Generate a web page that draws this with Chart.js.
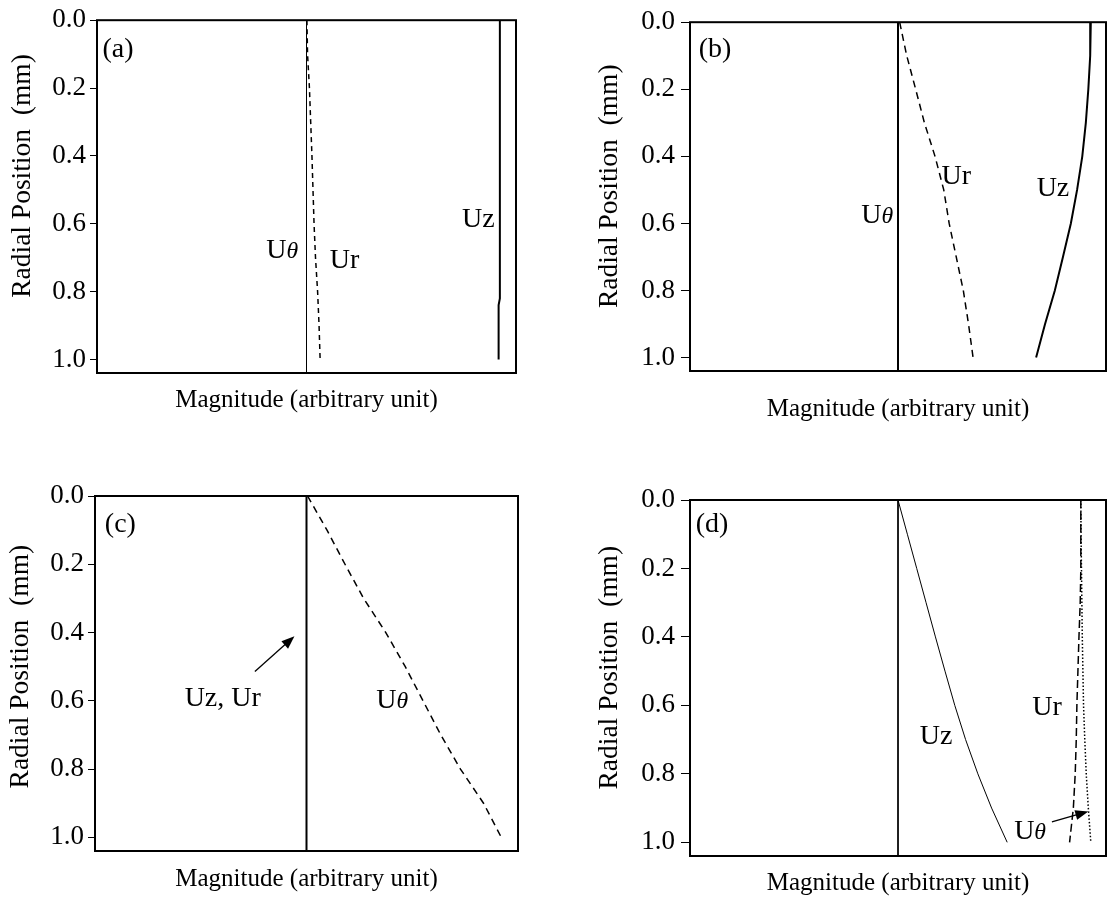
<!DOCTYPE html>
<html>
<head>
<meta charset="utf-8">
<script src="https://cdn.jsdelivr.net/npm/chart.js@4.4.0/dist/chart.umd.min.js"></script>
<style>
  html, body { margin: 0; padding: 0; background: #fff; }
  #wrap { position: relative; width: 1114px; height: 898px; }
  .panel { position: absolute; width: 557px; height: 449px; }
</style>
</head>
<body>
<div id="wrap">
  <div class="panel" style="left:0;top:0"><canvas id="chartA" width="557" height="449"></canvas></div>
  <div class="panel" style="left:557px;top:0"><canvas id="chartB" width="557" height="449"></canvas></div>
  <div class="panel" style="left:0;top:449px"><canvas id="chartC" width="557" height="449"></canvas></div>
  <div class="panel" style="left:557px;top:449px"><canvas id="chartD" width="557" height="449"></canvas></div>
</div>
<script>
// radial positions (mm) where the profiles are read
const radialPos = [0, 0.1, 0.2, 0.3, 0.4, 0.5, 0.6, 0.7, 0.8, 0.9, 1.0];
const yTicks = [0, 0.2, 0.4, 0.6, 0.8, 1.0];
const Y_MAX = 1.04;
const fullSpan = [0, Y_MAX];
const zeroLine = [0, 0];

// (a)
const aUr = [0.002, 0.005, 0.014, 0.020, 0.026, 0.031, 0.036, 0.043, 0.053, 0.060, 0.065];
const aUzPos = [0, 0.82, 0.84, 1.0];
const aUz = [0.923, 0.923, 0.917, 0.917];
// (b)
const bUr = [0.008, 0.042, 0.085, 0.127, 0.178, 0.220, 0.246, 0.280, 0.314, 0.339, 0.361];
const bUz = [0.927, 0.924, 0.915, 0.903, 0.886, 0.861, 0.831, 0.793, 0.754, 0.707, 0.664];
// (c)
const cUtheta = [0.005, 0.097, 0.182, 0.270, 0.375, 0.467, 0.551, 0.635, 0.728, 0.837, 0.921];
// (d)
const dUz = [0, 0.045, 0.090, 0.135, 0.180, 0.226, 0.273, 0.325, 0.384, 0.450, 0.525];
const dUr = [0.879, 0.879, 0.879, 0.876, 0.870, 0.865, 0.860, 0.857, 0.852, 0.843, 0.825];
const dUtheta = [0.879, 0.880, 0.882, 0.884, 0.886, 0.889, 0.892, 0.898, 0.905, 0.915, 0.927];

const SERIF = '"Liberation Serif", "Times New Roman", serif';

function series(xs, ys, style) {
    return Object.assign({
        data: xs.map((v, i) => ({x: v, y: ys[i]})),
        showLine: true,
        pointRadius: 0,
        borderColor: '#000',
        borderWidth: 1.5,
        fill: false,
        tension: 0
    }, style);
}

// box around the plot area
const frame = {
    id: 'frame',
    afterDatasetsDraw(chart) {
        const {ctx, chartArea: a} = chart;
        ctx.save();
        ctx.strokeStyle = '#000';
        ctx.lineWidth = 2;
        ctx.strokeRect(a.left, a.top, a.right - a.left, a.bottom - a.top);
        ctx.restore();
    }
};

// curve names, panel letters and arrows, placed in data coordinates
const notes = {
    id: 'notes',
    afterDraw(chart, args, opts) {
        const {ctx, scales: {x, y}} = chart;
        ctx.save();
        ctx.fillStyle = '#000';
        ctx.strokeStyle = '#000';
        (opts.arrows || []).forEach(a => {
            const x0 = x.getPixelForValue(a.from[0]), y0 = y.getPixelForValue(a.from[1]);
            const x1 = x.getPixelForValue(a.to[0]), y1 = y.getPixelForValue(a.to[1]);
            const ang = Math.atan2(y1 - y0, x1 - x0);
            ctx.lineWidth = 1.3;
            ctx.beginPath();
            ctx.moveTo(x0, y0);
            ctx.lineTo(x1 - 8 * Math.cos(ang), y1 - 8 * Math.sin(ang));
            ctx.stroke();
            ctx.beginPath();
            ctx.moveTo(x1, y1);
            ctx.lineTo(x1 - 13 * Math.cos(ang) + 5 * Math.sin(ang), y1 - 13 * Math.sin(ang) - 5 * Math.cos(ang));
            ctx.lineTo(x1 - 13 * Math.cos(ang) - 5 * Math.sin(ang), y1 - 13 * Math.sin(ang) + 5 * Math.cos(ang));
            ctx.closePath();
            ctx.fill();
        });
        ctx.textBaseline = 'alphabetic';
        ctx.textAlign = 'left';
        (opts.texts || []).forEach(t => {
            const size = t.size || 28;
            const parts = t.parts || [[t.text, false]];
            let total = 0;
            const widths = parts.map(p => {
                ctx.font = (p[1] ? 'italic ' : '') + (p[1] ? size * 0.85 : size) + 'px ' + SERIF;
                const w = ctx.measureText(p[0]).width;
                total += w;
                return w;
            });
            let px = x.getPixelForValue(t.at[0]) - total / 2;
            const py = y.getPixelForValue(t.at[1]) + size * 0.33;
            parts.forEach((p, i) => {
                ctx.font = (p[1] ? 'italic ' : '') + (p[1] ? size * 0.85 : size) + 'px ' + SERIF;
                ctx.fillText(p[0], px, py);
                px += widths[i];
            });
        });
        ctx.restore();
    }
};

const THETA = [['U', false], ['\u03B8', true]];

function makePanel(id, cfg) {
    return new Chart(document.getElementById(id), {
        type: 'scatter',
        data: { datasets: cfg.datasets },
        plugins: [frame, notes],
        options: {
            responsive: false,
            animation: false,
            layout: { padding: cfg.pad },
            plugins: {
                legend: { display: false },
                tooltip: { enabled: false },
                notes: cfg.notes
            },
            scales: {
                x: {
                    type: 'linear', min: -1, max: 1,
                    ticks: { display: false },
                    grid: { display: false },
                    border: { display: false },
                    title: {
                        display: true, text: 'Magnitude (arbitrary unit)', color: '#000',
                        font: { family: SERIF, size: 25 },
                        padding: { top: 0, bottom: cfg.xTitlePad }
                    },
                    afterFit: s => { s.height = cfg.xHeight; }
                },
                y: {
                    type: 'linear', reverse: true, min: 0, max: Y_MAX,
                    afterBuildTicks: s => { s.ticks = yTicks.map(v => ({ value: v })); },
                    ticks: {
                        callback: v => v.toFixed(1), color: '#000', padding: cfg.tickPad,
                        font: { family: SERIF, size: 27 }
                    },
                    grid: { drawOnChartArea: false, drawTicks: true, tickLength: cfg.tickLen, color: '#000', lineWidth: 1 },
                    border: { display: false },
                    title: {
                        display: true, text: cfg.yTitle, color: '#000',
                        font: { family: SERIF, size: 27.5 },
                        padding: { top: cfg.yTitlePad, bottom: 0 }
                    },
                    afterFit: s => { s.width = cfg.yWidth; }
                }
            }
        }
    });
}

const yTitle = 'Radial Position  (mm)';

makePanel('chartA', {
    pad: { top: 16, right: 41, bottom: 0, left: 0 },
    yWidth: 97, yTitlePad: 6, yTitle: '      ' + yTitle,
    tickLen: 7, tickPad: 4,
    xHeight: 76, xTitlePad: 34,
    datasets: [
        series(zeroLine, fullSpan, { borderWidth: 1 }),
        series(aUr, radialPos, { borderDash: [5, 4] }),
        series(aUz, aUzPos, { borderWidth: 2 })
    ],
    notes: {
        texts: [
            { at: [-0.9, 0.082], text: '(a)' },
            { at: [-0.116, 0.674], parts: THETA },
            { at: [0.182, 0.703], text: 'Ur' },
            { at: [0.82, 0.583], text: 'Uz' }
        ]
    }
});

makePanel('chartB', {
    pad: { top: 16, right: 8, bottom: 0, left: 0 },
    yWidth: 133, yTitlePad: 36.5, yTitle: '   ' + yTitle,
    tickLen: 9, tickPad: 6,
    xHeight: 78, xTitlePad: 25,
    datasets: [
        series(zeroLine, fullSpan, { borderWidth: 2 }),
        series(bUr, radialPos, { borderDash: [7, 5] }),
        series(bUz, radialPos, { borderWidth: 2 })
    ],
    notes: {
        texts: [
            { at: [-0.88, 0.075], text: '(b)' },
            { at: [-0.1, 0.57], parts: THETA },
            { at: [0.28, 0.456], text: 'Ur' },
            { at: [0.745, 0.49], text: 'Uz' }
        ]
    }
});

makePanel('chartC', {
    pad: { top: 47, right: 39, bottom: 0, left: 0 },
    yWidth: 95, yTitlePad: 4.5, yTitle: '  ' + yTitle,
    tickLen: 7, tickPad: 4,
    xHeight: 47, xTitlePad: 4,
    datasets: [
        series(zeroLine, fullSpan, { borderWidth: 2 }),
        series(cUtheta, radialPos, { borderDash: [7, 5] })
    ],
    notes: {
        texts: [
            { at: [-0.88, 0.078], text: '(c)' },
            { at: [-0.396, 0.589], text: 'Uz, Ur' },
            { at: [0.405, 0.594], parts: THETA }
        ],
        arrows: [ { from: [-0.244, 0.514], to: [-0.057, 0.411] } ]
    }
});

makePanel('chartD', {
    pad: { top: 51, right: 8, bottom: 0, left: 0 },
    yWidth: 133, yTitlePad: 36.5, yTitle: '   ' + yTitle,
    tickLen: 9, tickPad: 6,
    xHeight: 42, xTitlePad: 0,
    datasets: [
        series(zeroLine, fullSpan, { borderWidth: 1 }),
        series(dUz, radialPos, { borderWidth: 1 }),
        series(dUr, radialPos, { borderDash: [8, 4] }),
        series(dUtheta, radialPos, { borderDash: [1.5, 2] })
    ],
    notes: {
        texts: [
            { at: [-0.894, 0.067], text: '(d)' },
            { at: [0.183, 0.687], text: 'Uz' },
            { at: [0.716, 0.6], text: 'Ur' },
            { at: [0.635, 0.962], parts: THETA }
        ],
        arrows: [ { from: [0.74, 0.94], to: [0.915, 0.91] } ]
    }
});
</script>
</body>
</html>
